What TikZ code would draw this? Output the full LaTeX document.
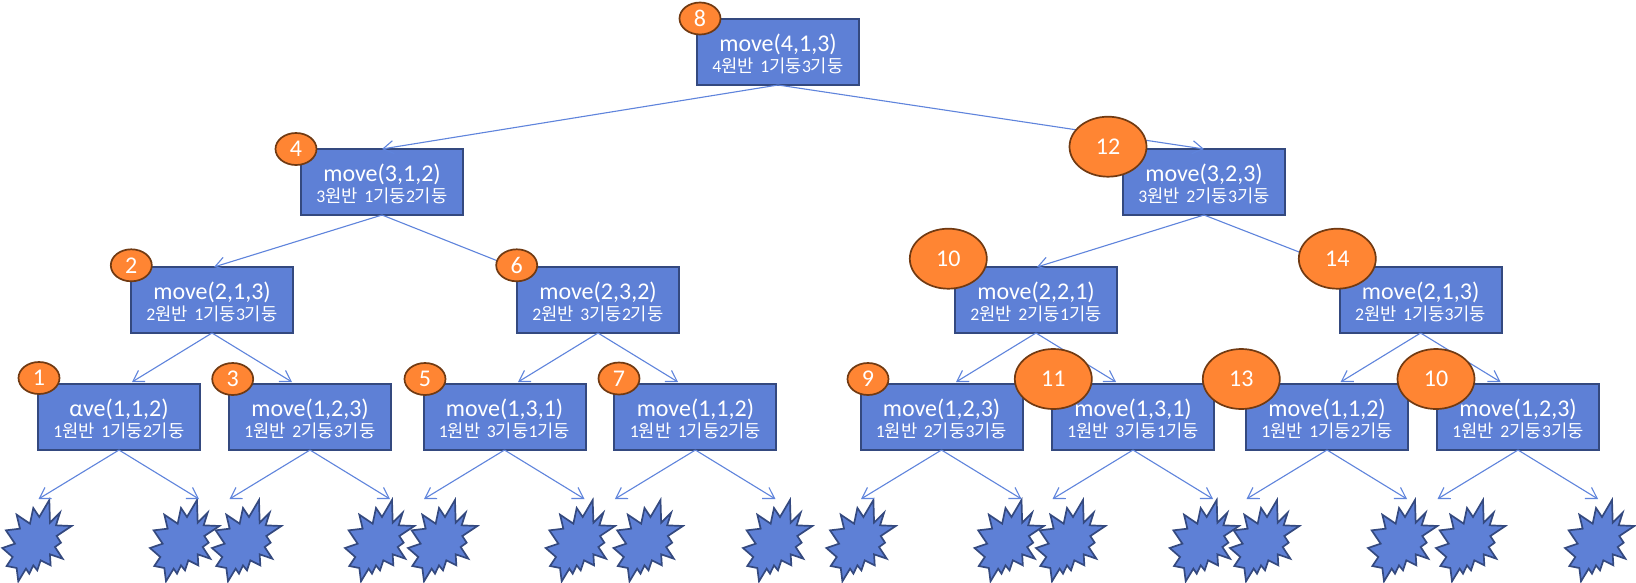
\documentclass[tikz,border=0pt]{standalone}
\usepackage{fontspec}
\setmainfont{Carlito}
\newfontfamily\krfont{Noto Sans CJK KR}
\usetikzlibrary{shapes.geometric,arrows.meta,calc}
\definecolor{boxfill}{HTML}{5E80D6}
\definecolor{boxline}{HTML}{34497F}
\definecolor{arrowline}{HTML}{5F84DC}
\definecolor{ovalfill}{HTML}{FF8533}
\definecolor{ovalline}{HTML}{713A12}
\tikzset{
  callbox/.style={draw=boxline,fill=boxfill,line width=2pt,minimum width=162pt,minimum height=66pt,inner sep=0pt,outer sep=0pt,text=white,align=center},
  oval/.style={ellipse,draw=ovalline,fill=ovalfill,line width=1.7pt,inner sep=0pt,outer sep=0pt,text=white,font=\fontsize{24}{24}\selectfont},
  smalloval/.style={oval,minimum width=41pt,minimum height=32pt},
  bigoval/.style={oval,minimum width=77pt,minimum height=60pt},
  link/.style={draw=arrowline,line width=1.1pt,-{Straight Barb[length=10.5pt,width=13pt,line width=1.1pt]}},
  burst/.style={draw=boxline,fill=boxfill,line width=1.7pt,miter limit=10,line join=miter}
}
\newcommand{\callnode}[7]{%
  \node[callbox] (#1) at (#2,#3) {\rule{0pt}{21pt}{\fontsize{24}{24}\selectfont #4}\\[2pt]{\fontsize{17.7}{18}\selectfont #5{\krfont 원반}\hspace{6.5pt}#6{\krfont 기둥}#7{\krfont 기둥}}};}
\newcommand{\burstat}[1]{%
  \draw[burst,shift={(#1,500)},scale=1/3] (141,0)--(143,68)--(173,38)--(161,76)--(208,78)--(163,108)--(176,128)--(158,141)--(181,176)--(143,163)--(145,196)--(115,181)--(105,211)--(93,196)--(81,221)--(71,206)--(48,244)--(43,204)--(13,198)--(31,171)--(0,144)--(38,131)--(11,91)--(53,86)--(43,44)--(83,71)--(93,24)--(111,51)--cycle;}
\begin{document}
\begin{tikzpicture}[x=1pt,y=-1pt]
\path[use as bounding box,fill=white] (0,0) rectangle (1636,582);
% bursts
\foreach \l in {2.3,150,212,345,408,545.7,613.5,743,826.4,974.5,1036,1169.7,1230,1368,1436,1565}{\burstat{\l}}
% boxes placed first so that connectors can refer to them
\callnode{b8}{778}{52}{move(4,1,3)}{4}{1}{3}
\callnode{b4}{382}{182}{move(3,1,2)}{3}{1}{2}
\callnode{b12}{1204}{182}{move(3,2,3)}{3}{2}{3}
\callnode{b2}{212}{300}{move(2,1,3)}{2}{1}{3}
\callnode{b6}{598}{300}{move(2,3,2)}{2}{3}{2}
\callnode{b10}{1036}{300}{move(2,2,1)}{2}{2}{1}
\callnode{b14}{1420.6}{300}{move(2,1,3)}{2}{1}{3}
\callnode{b1}{119}{417}{αve(1,1,2)}{1}{1}{2}
\callnode{b3}{310}{417}{move(1,2,3)}{1}{2}{3}
\callnode{b5}{504.5}{417}{move(1,3,1)}{1}{3}{1}
\callnode{b7}{695.4}{417}{move(1,1,2)}{1}{1}{2}
\callnode{b9}{941.5}{417}{move(1,2,3)}{1}{2}{3}
\callnode{b11}{1133}{417}{move(1,3,1)}{1}{3}{1}
\callnode{b13}{1327}{417}{move(1,1,2)}{1}{1}{2}
\callnode{b15}{1518}{417}{move(1,2,3)}{1}{2}{3}
% connectors, level 1 and 2
\draw[link] (b8.south) -- (b4.north);
\draw[link] (b8.south) -- (b12.north);
\coordinate (t2) at ($(b2.north)+(2,0)$);
\coordinate (t6) at ($(b6.north)+(-85,0)$);
\coordinate (t10) at ($(b10.north)+(1,0)$);
\coordinate (t14) at ($(b14.north)+(-83,0)$);
\draw[link] (b4.south) -- (t2);
\draw[link] (b4.south) -- (t6);
\draw[link] (b12.south) -- (t10);
\draw[link] (b12.south) -- (t14);
% connectors, level 3
\foreach \p/\a/\b in {b2/b1/b3,b6/b5/b7,b10/b9/b11,b14/b13/b15}{
  \draw[link] (\p.south) -- ($(\p.south)+(-80,49)$ |- \a.north);
  \draw[link] (\p.south) -- ($(\p.south)+(80,49)$ |- \b.north);
}
% connectors, level 4 (free ends above the bursts)
\foreach \p in {b1,b3,b5,b7,b9,b11,b13,b15}{
  \coordinate (\p l) at ($(\p.south)+(-80.5,49)$);
  \coordinate (\p r) at ($(\p.south)+(80,49)$);
  \draw[link] (\p.south) -- (\p l);
  \draw[link] (\p.south) -- (\p r);
}
% ovals on top
\node[smalloval] (n8) at (700,18.5) {8};
\node[smalloval] (n4) at (296,149) {4};
\node[smalloval] (n2) at (131.3,265.3) {2};
\node[smalloval] (n6) at (516.7,265.3) {6};
\node[smalloval] (n1) at (39,378) {1};
\node[smalloval] (n3) at (232.7,379) {3};
\node[smalloval] (n5) at (425,379) {5};
\node[smalloval] (n7) at (619,378.5) {7};
\node[smalloval] (n9) at (868,379) {9};
\node[bigoval] (n12) at (1108,146.7) {12};
\node[bigoval] (n10) at (948.3,258.7) {10};
\node[bigoval] (n14) at (1337.3,258.7) {14};
\node[bigoval] (n11) at (1053.3,379) {11};
\node[bigoval] (n13) at (1241.3,379) {13};
\node[bigoval] (n15) at (1436,379) {10};
\end{tikzpicture}
\end{document}
